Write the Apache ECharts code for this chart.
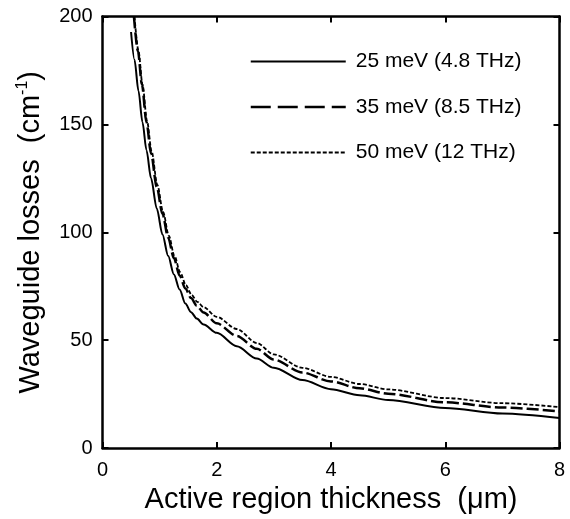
<!DOCTYPE html>
<html>
<head>
<meta charset="utf-8">
<script src="https://cdn.jsdelivr.net/npm/echarts@6/dist/echarts.min.js"></script>
<style>
html,body{margin:0;padding:0;background:#fff;}
#c{width:570px;height:519px;}
</style>
</head>
<body>
<div id="c"></div>
<script>
// --- data ---
const seriesNames = ['25 meV (4.8 THz)', '35 meV (8.5 THz)', '50 meV (12 THz)'];
const x25 = [0.50, 0.56, 0.63, 0.70, 0.77, 0.85, 0.95, 1.05, 1.15, 1.25, 1.35, 1.45, 1.55, 1.65, 1.77, 2.00, 2.35, 2.70, 3.00, 3.50, 4.00, 4.50, 5.00, 6.00, 7.00, 8.00];
const y25 = [192.8, 180, 165.5, 151, 138, 125, 111, 99, 89, 80.5, 73.5, 67, 63, 60, 57.3, 53.4, 47.2, 41.5, 37.2, 31.5, 27.3, 24.5, 22.3, 18.6, 16.0, 13.9];
const x35 = [0.55, 0.62, 0.69, 0.77, 0.85, 0.95, 1.05, 1.15, 1.25, 1.35, 1.45, 1.55, 1.65, 1.77, 2.00, 2.35, 2.70, 3.00, 3.50, 4.00, 4.50, 5.00, 6.00, 7.00, 8.00];
const y35 = [200, 184, 168.5, 151, 136.5, 121, 108.5, 97.5, 88, 80, 74, 69.5, 66, 62.8, 57.8, 52, 46, 41, 35, 30.9, 27.7, 25.2, 21.2, 18.8, 17.0];
const x50 = [0.56, 0.63, 0.70, 0.78, 0.86, 0.96, 1.06, 1.16, 1.26, 1.36, 1.46, 1.56, 1.66, 1.77, 2.00, 2.35, 2.70, 3.00, 3.50, 4.00, 4.50, 5.00, 6.00, 7.00, 8.00];
const y50 = [200, 184, 168.5, 151.5, 137.5, 122, 109.5, 98.5, 89, 81.5, 75.5, 71, 67.8, 65.3, 60.8, 55.2, 48.7, 43.4, 37.2, 33.0, 29.7, 27.2, 23.2, 20.8, 19.0];
const xTicks = [0, 2, 4, 6, 8];
const yTicks = [0, 50, 100, 150, 200];

const pairs = (xs, ys) => xs.map((x, i) => [x, ys[i]]);
const FONT = 'Liberation Sans';

const chart = echarts.init(document.getElementById('c'), null, {renderer: 'canvas'});
const axisLine = {show: true, onZero: false, lineStyle: {color: '#000', width: 2.5}};
const axisTick = {show: true, inside: true, length: 6, lineStyle: {color: '#000', width: 2}};

chart.setOption({
  animation: false,
  backgroundColor: '#fff',
  grid: {left: 102.5, right: 10.5, top: 16.5, bottom: 70.7, containLabel: false},
  legend: {
    orient: 'vertical',
    left: 244.5,
    top: 46,
    padding: 5,
    itemWidth: 95,
    itemHeight: 20,
    itemGap: 24.5,
    selectedMode: false,
    itemStyle: {opacity: 0, color: 'transparent', borderWidth: 0},
    textStyle: {fontFamily: FONT, fontSize: 21, lineHeight: 20, color: '#000', padding: [0, 0, 0, 5]},
    data: [
      {name: seriesNames[0], lineStyle: {type: 'solid', width: 2}},
      {name: seriesNames[1], lineStyle: {type: [20, 7], width: 2.5}},
      {name: seriesNames[2], lineStyle: {type: [4, 2], width: 1.8}}
    ]
  },
  xAxis: [{
    type: 'value', min: xTicks[0], max: xTicks[xTicks.length - 1], interval: 2,
    axisLine, axisTick,
    splitLine: {show: false},
    axisLabel: {fontFamily: FONT, fontSize: 20, color: '#000', margin: 12},
    name: 'Active region thickness  (\u03bcm)',
    nameLocation: 'middle', nameGap: 33,
    nameTextStyle: {fontFamily: FONT, fontSize: 29, color: '#000'}
  }, {
    type: 'value', min: 0, max: 8, interval: 2, position: 'top',
    axisLine, axisTick, axisLabel: {show: false}, splitLine: {show: false}
  }],
  yAxis: [{
    type: 'value', min: yTicks[0], max: yTicks[yTicks.length - 1], interval: 50,
    axisLine, axisTick,
    splitLine: {show: false},
    axisLabel: {fontFamily: FONT, fontSize: 20, color: '#000', margin: 10},
    name: 'Waveguide losses  (cm{sup|-1})',
    nameLocation: 'middle', nameGap: 56, nameRotate: 90,
    nameTextStyle: {fontFamily: FONT, fontSize: 29, color: '#000', lineHeight: 32,
      rich: {sup: {fontFamily: FONT, fontSize: 16, color: '#000', verticalAlign: 'top', lineHeight: 32, padding: [0, 0, 12, 0]}}}
  }, {
    type: 'value', min: 0, max: 200, interval: 50, position: 'right',
    axisLine, axisTick, axisLabel: {show: false}, splitLine: {show: false}
  }],
  series: [
    {name: seriesNames[0], type: 'line', data: pairs(x25, y25), symbol: 'none', smooth: 0.3, smoothMonotone: 'x',
      lineStyle: {color: '#000', width: 2, type: 'solid'}, itemStyle: {color: '#000'}, clip: true},
    {name: seriesNames[1], type: 'line', data: pairs(x35, y35), symbol: 'none', smooth: 0.3, smoothMonotone: 'x',
      lineStyle: {color: '#000', width: 2.5, type: [12, 4]}, itemStyle: {color: '#000'}, clip: true},
    {name: seriesNames[2], type: 'line', data: pairs(x50, y50), symbol: 'none', smooth: 0.3, smoothMonotone: 'x',
      lineStyle: {color: '#000', width: 1.8, type: [4, 2]}, itemStyle: {color: '#000'}, clip: true}
  ]
});
</script>
</body>
</html>
